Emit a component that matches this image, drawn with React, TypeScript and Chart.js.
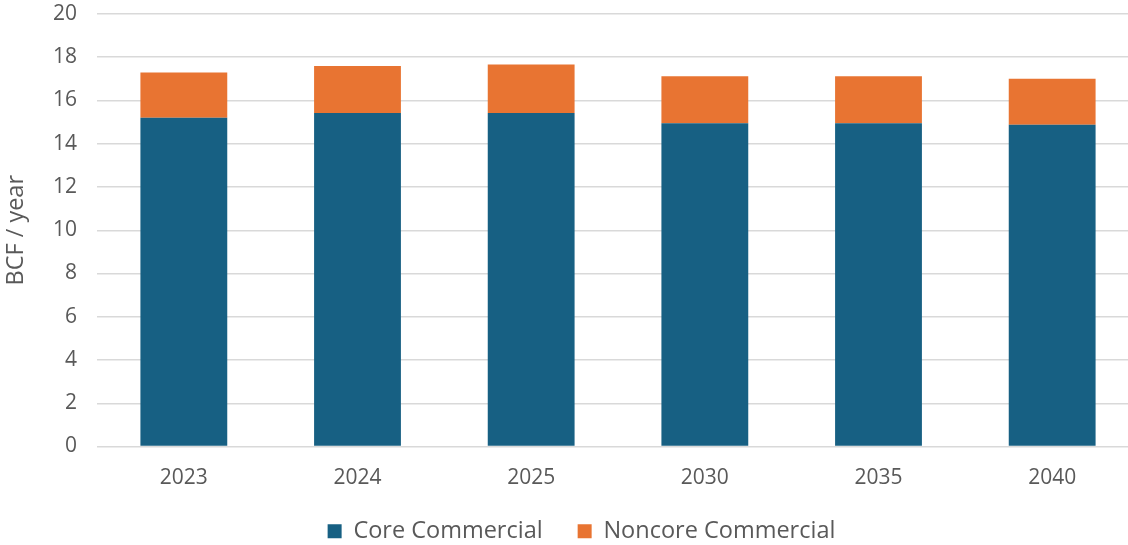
import React, { useEffect, useRef } from "react";
import { Chart, registerables } from "chart.js";

Chart.register(...registerables);

const categories = ["2023", "2024", "2025", "2030", "2035", "2040"];
const coreCommercial = [15.2, 15.42, 15.42, 14.95, 14.95, 14.88];
const noncoreCommercial = [2.1, 2.18, 2.24, 2.17, 2.17, 2.13];
const yTicks = [0, 2, 4, 6, 8, 10, 12, 14, 16, 18, 20];

const FONT = "'Open Sans', sans-serif";
const TEXT = "#595959";

export default function App() {
  const ref = useRef<HTMLCanvasElement | null>(null);

  useEffect(() => {
    if (!ref.current) return;
    const chart = new Chart(ref.current, {
      type: "bar",
      data: {
        labels: categories,
        datasets: [
          {
            label: "Core Commercial",
            data: coreCommercial,
            backgroundColor: "#176083",
            borderWidth: 0,
            barPercentage: 0.5,
            categoryPercentage: 1,
          },
          {
            label: "Noncore Commercial",
            data: noncoreCommercial,
            backgroundColor: "#E87432",
            borderWidth: 0,
            barPercentage: 0.5,
            categoryPercentage: 1,
          },
        ],
      },
      options: {
        responsive: false,
        animation: false,
        layout: { padding: { left: 24, right: 11, top: 14, bottom: -8 } },
        plugins: {
          legend: {
            position: "bottom",
            labels: {
              color: TEXT,
              font: { family: FONT, size: 23.5 },
              boxWidth: 14,
              boxHeight: 14,
              padding: 35,
            },
          },
          tooltip: { enabled: false },
        },
        scales: {
          x: {
            stacked: true,
            grid: { display: false, drawTicks: false },
            border: { display: false },
            ticks: {
              color: TEXT,
              font: { family: FONT, size: 21 },
              padding: 19,
              maxRotation: 0,
            },
            afterFit: (s: any) => {
              s.height = 38;
            },
          },
          y: {
            stacked: true,
            min: 0,
            max: 20,
            afterBuildTicks: (s: any) => {
              s.ticks = yTicks.map((v) => ({ value: v }));
            },
            grid: { color: "#D9D9D9", lineWidth: 1.5, drawTicks: false },
            border: { display: false },
            ticks: {
              color: TEXT,
              font: { family: FONT, size: 21 },
              padding: 20,
            },
            title: {
              display: true,
              text: "BCF / year",
              color: TEXT,
              font: { family: FONT, size: 23.5 },
              padding: { top: -22, bottom: 0 },
            },
            afterFit: (s: any) => {
              s.width = 73;
              s.paddingTop = 0;
              s.paddingBottom = 0;
            },
          },
        },
      },
    });
    return () => chart.destroy();
  }, []);

  return (
    <div
      style={{
        position: "fixed",
        left: 0,
        top: 0,
        width: 1128,
        height: 545,
        overflow: "hidden",
        background: "#fff",
      }}
    >
      <canvas ref={ref} width={1150} height={545} />
    </div>
  );
}
